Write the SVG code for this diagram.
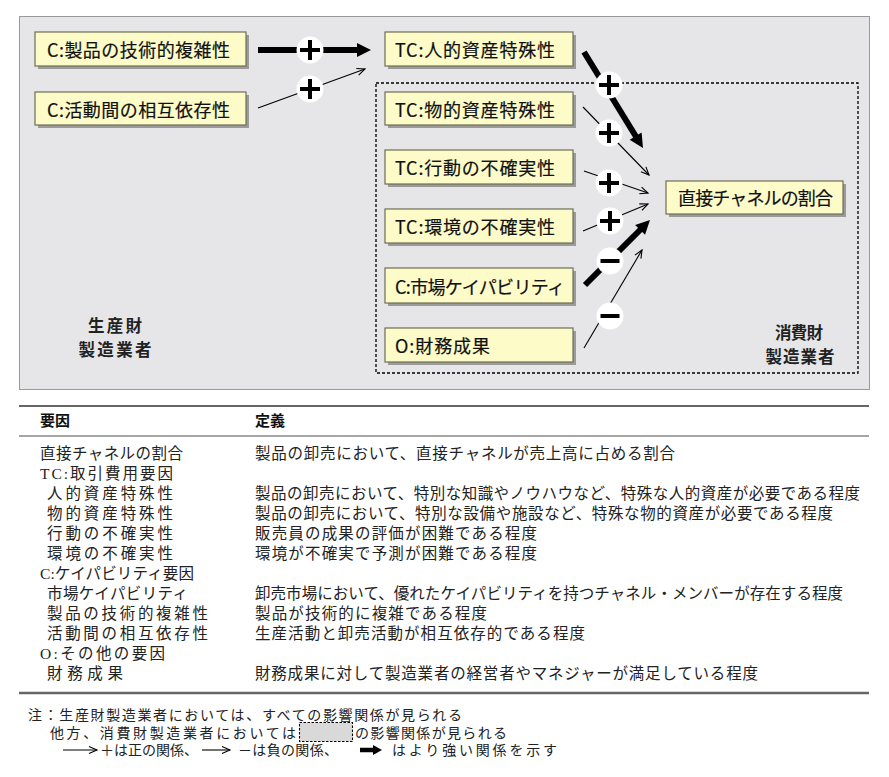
<svg xmlns="http://www.w3.org/2000/svg" xmlns:xlink="http://www.w3.org/1999/xlink" width="889" height="777" viewBox="0 0 889 777">
<style>
.box{fill:#fdfcc9;stroke:#6e6e55;stroke-width:1.2}
.shadow{fill:#9b9b9b}
.bt{font-family:"Noto Sans CJK JP",sans-serif;font-size:18px;fill:#111;stroke:#111;stroke-width:0.2}
.lbl{font-family:"Noto Sans CJK JP",sans-serif;font-size:16.5px;font-weight:bold;fill:#222;text-anchor:middle}
.hd{font-family:"Noto Sans CJK JP",sans-serif;font-size:15px;font-weight:bold;fill:#111}
.tb{font-family:"Liberation Serif","Noto Sans CJK JP",serif;font-size:15.5px;fill:#222}
.nt{font-family:"Liberation Serif","Noto Sans CJK JP",serif;font-size:14px;fill:#222}
.thin{stroke:#000;stroke-width:1.1;fill:none}
.thick{stroke:#000;stroke-width:6;fill:none}
.sgn{fill:#fff}
.mk{stroke:#000;stroke-width:4;stroke-linecap:butt}
</style>
<defs>
<marker id="open" markerUnits="userSpaceOnUse" markerWidth="10" markerHeight="10" refX="8" refY="3.5" orient="auto" overflow="visible">
<path d="M0,0 L8,3.5 L0,7" fill="none" stroke="#000" stroke-width="1.1"/>
</marker>
<marker id="fill" markerUnits="userSpaceOnUse" markerWidth="16" markerHeight="16" refX="2" refY="7" orient="auto" overflow="visible">
<path d="M0,0 L14,7 L0,14 z" fill="#000"/>
</marker>
<marker id="fillS" markerUnits="userSpaceOnUse" markerWidth="10" markerHeight="10" refX="1" refY="5" orient="auto" overflow="visible">
<path d="M0,0 L9,5 L0,10 z" fill="#000"/>
</marker>
<g id="plus"><circle r="13.5" class="sgn"/><path class="mk" d="M-10,0 H10 M0,-10 V10"/></g>
<g id="minus"><circle r="13.5" class="sgn"/><path class="mk" d="M-9.5,0 H9.5"/></g>
</defs>

<rect id="panel" x="19.5" y="16.5" width="850" height="373" fill="#e6e6e8" stroke="#999" stroke-width="1"/>
<rect id="consumer-region" x="376" y="83" width="482" height="290" fill="none" stroke="#000" stroke-width="1.3" stroke-dasharray="3,2"/>

<g id="connectors">
<line class="thick" x1="258" y1="50" x2="359" y2="50" marker-end="url(#fill)"/>
<line class="thin" x1="258" y1="108" x2="365" y2="69" marker-end="url(#open)"/>
<line class="thick" x1="584" y1="52" x2="636.7" y2="137.8" marker-end="url(#fill)"/>
<line class="thin" x1="583" y1="107" x2="649" y2="175" marker-end="url(#open)"/>
<line class="thin" x1="584" y1="171" x2="648" y2="193" marker-end="url(#open)"/>
<line class="thin" x1="583" y1="231" x2="648" y2="204" marker-end="url(#open)"/>
<line class="thick" x1="585" y1="285" x2="641.5" y2="228.5" marker-end="url(#fill)"/>
<line class="thin" x1="584" y1="348" x2="642" y2="250" marker-end="url(#open)"/>
<use xlink:href="#plus" x="310" y="50"/>
<use xlink:href="#plus" x="310" y="89"/>
<use xlink:href="#plus" x="609" y="85"/>
<use xlink:href="#plus" x="609" y="133"/>
<use xlink:href="#plus" x="609" y="183"/>
<use xlink:href="#plus" x="610" y="221"/>
<use xlink:href="#minus" x="610" y="261"/>
<use xlink:href="#minus" x="610" y="316"/>
</g>

<g id="n-complexity"><rect class="shadow" x="38" y="35" width="211" height="34"/><rect class="box" x="35" y="32" width="211" height="34"/><text class="bt" x="47" y="57" textLength="183" lengthAdjust="spacing">C:製品の技術的複雑性</text></g>
<g id="n-interdep"><rect class="shadow" x="38" y="95" width="211" height="33"/><rect class="box" x="35" y="92" width="211" height="33"/><text class="bt" x="47" y="116.5" textLength="183" lengthAdjust="spacing">C:活動間の相互依存性</text></g>
<g id="n-human"><rect class="shadow" x="388" y="35" width="188" height="34"/><rect class="box" x="385" y="32" width="188" height="34"/><text class="bt" x="395" y="57" textLength="160" lengthAdjust="spacing">TC:人的資産特殊性</text></g>
<g id="n-physical"><rect class="shadow" x="388" y="95" width="188" height="33"/><rect class="box" x="385" y="92" width="188" height="33"/><text class="bt" x="395" y="116.5" textLength="160" lengthAdjust="spacing">TC:物的資産特殊性</text></g>
<g id="n-behavior"><rect class="shadow" x="388" y="153" width="188" height="34"/><rect class="box" x="385" y="150" width="188" height="34"/><text class="bt" x="395" y="175" textLength="160" lengthAdjust="spacing">TC:行動の不確実性</text></g>
<g id="n-environment"><rect class="shadow" x="388" y="212" width="188" height="34"/><rect class="box" x="385" y="209" width="188" height="34"/><text class="bt" x="395" y="234" textLength="160" lengthAdjust="spacing">TC:環境の不確実性</text></g>
<g id="n-market"><rect class="shadow" x="388" y="271" width="188" height="35"/><rect class="box" x="385" y="268" width="188" height="35"/><text class="bt" x="395" y="293.5" textLength="170" lengthAdjust="spacing">C:市場ケイパビリティ</text></g>
<g id="n-finance"><rect class="shadow" x="388" y="331" width="188" height="34"/><rect class="box" x="385" y="328" width="188" height="34"/><text class="bt" x="395" y="353" textLength="95" lengthAdjust="spacing">O:財務成果</text></g>
<g id="n-direct"><rect class="shadow" x="669" y="184" width="177" height="33"/><rect class="box" x="666" y="181" width="177" height="33"/><text class="bt" x="678" y="205" textLength="155" lengthAdjust="spacing">直接チャネルの割合</text></g>

<g id="labels">
<text class="lbl" x="115" y="332" textLength="54" lengthAdjust="spacing">生産財</text>
<text class="lbl" x="115" y="356" textLength="73" lengthAdjust="spacing">製造業者</text>
<text class="lbl" x="799" y="339" textLength="48" lengthAdjust="spacing">消費財</text>
<text class="lbl" x="800" y="363" textLength="69" lengthAdjust="spacing">製造業者</text>
</g>

<g id="table">
<line x1="19" y1="406" x2="869" y2="406" stroke="#666" stroke-width="2.2"/>
<line x1="19" y1="436" x2="869" y2="436" stroke="#888" stroke-width="1.4"/>
<line x1="19" y1="693" x2="869" y2="693" stroke="#666" stroke-width="2.5"/>
<text class="hd" x="40" y="426">要因</text>
<text class="hd" x="255" y="426">定義</text>
<text class="tb" x="40" y="458.5" textLength="143" lengthAdjust="spacing">直接チャネルの割合</text>
<text class="tb" x="40" y="478.5" textLength="133" lengthAdjust="spacing">TC:取引費用要因</text>
<text class="tb" x="47" y="498.5" textLength="126" lengthAdjust="spacing">人的資産特殊性</text>
<text class="tb" x="47" y="518.5" textLength="126" lengthAdjust="spacing">物的資産特殊性</text>
<text class="tb" x="47" y="538.5" textLength="126" lengthAdjust="spacing">行動の不確実性</text>
<text class="tb" x="47" y="558.5" textLength="126" lengthAdjust="spacing">環境の不確実性</text>
<text class="tb" x="40" y="578.5" textLength="154" lengthAdjust="spacing">C:ケイパビリティ要因</text>
<text class="tb" x="47" y="598.5" textLength="141" lengthAdjust="spacing">市場ケイパビリティ</text>
<text class="tb" x="47" y="618.5" textLength="161" lengthAdjust="spacing">製品の技術的複雑性</text>
<text class="tb" x="47" y="638.5" textLength="161" lengthAdjust="spacing">活動間の相互依存性</text>
<text class="tb" x="40" y="658.5" textLength="125" lengthAdjust="spacing">O:その他の要因</text>
<text class="tb" x="47" y="678.5" textLength="76" lengthAdjust="spacing">財務成果</text>
<text class="tb" x="255" y="458.5" textLength="420" lengthAdjust="spacing">製品の卸売において、直接チャネルが売上高に占める割合</text>
<text class="tb" x="255" y="498.5" textLength="605" lengthAdjust="spacing">製品の卸売において、特別な知識やノウハウなど、特殊な人的資産が必要である程度</text>
<text class="tb" x="255" y="518.5" textLength="578" lengthAdjust="spacing">製品の卸売において、特別な設備や施設など、特殊な物的資産が必要である程度</text>
<text class="tb" x="255" y="538.5" textLength="282" lengthAdjust="spacing">販売員の成果の評価が困難である程度</text>
<text class="tb" x="255" y="558.5" textLength="282" lengthAdjust="spacing">環境が不確実で予測が困難である程度</text>
<text class="tb" x="255" y="598.5" textLength="588" lengthAdjust="spacing">卸売市場において、優れたケイパビリティを持つチャネル・メンバーが存在する程度</text>
<text class="tb" x="255" y="618.5" textLength="232" lengthAdjust="spacing">製品が技術的に複雑である程度</text>
<text class="tb" x="255" y="638.5" textLength="330" lengthAdjust="spacing">生産活動と卸売活動が相互依存的である程度</text>
<text class="tb" x="255" y="678.5" textLength="503" lengthAdjust="spacing">財務成果に対して製造業者の経営者やマネジャーが満足している程度</text>
</g>

<g id="notes">
<text class="nt" x="28" y="720" textLength="434" lengthAdjust="spacing">注：生産財製造業者においては、すべての影響関係が見られる</text>
<text class="nt" x="50" y="738" textLength="246" lengthAdjust="spacing">他方、消費財製造業者においては</text>
<rect x="299.5" y="722.5" width="53" height="19" fill="#d9d9d9" stroke="#000" stroke-width="1.1" stroke-dasharray="2.5,1.5"/>
<text class="nt" x="355" y="738" textLength="152" lengthAdjust="spacing">の影響関係が見られる</text>
<line class="thin" x1="63" y1="750" x2="97" y2="750" marker-end="url(#open)"/>
<text class="nt" x="100" y="755" textLength="98" lengthAdjust="spacing">＋は正の関係、</text>
<line class="thin" x1="202" y1="750" x2="230" y2="750" marker-end="url(#open)"/>
<text class="nt" x="238" y="755" textLength="100" lengthAdjust="spacing">－は負の関係、</text>
<line x1="360" y1="750" x2="374" y2="750" stroke="#000" stroke-width="4.5" marker-end="url(#fillS)"/>
<text class="nt" x="392" y="755" textLength="165" lengthAdjust="spacing">はより強い関係を示す</text>
</g>
</svg>
